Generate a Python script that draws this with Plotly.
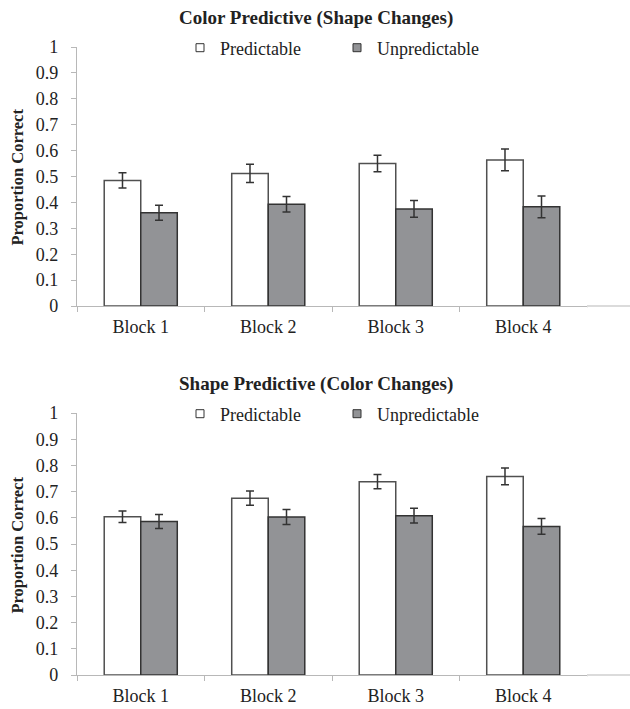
import plotly.graph_objects as go

blocks = ["Block 1", "Block 2", "Block 3", "Block 4"]
series_names = ["Predictable", "Unpredictable"]

top_title = "Color Predictive (Shape Changes)"
top_pred = [0.485, 0.512, 0.550, 0.564]
top_pred_err = [0.029, 0.035, 0.032, 0.042]
top_unpred = [0.360, 0.393, 0.375, 0.383]
top_unpred_err = [0.029, 0.030, 0.032, 0.042]

bot_title = "Shape Predictive (Color Changes)"
bot_pred = [0.604, 0.675, 0.738, 0.758]
bot_pred_err = [0.022, 0.027, 0.027, 0.032]
bot_unpred = [0.586, 0.603, 0.608, 0.567]
bot_unpred_err = [0.027, 0.029, 0.028, 0.030]

y_ticks = [0, 0.1, 0.2, 0.3, 0.4, 0.5, 0.6, 0.7, 0.8, 0.9, 1]
y_ticktext = ["0", "0.1", "0.2", "0.3", "0.4", "0.5", "0.6", "0.7", "0.8", "0.9", "1"]

FONT = "Liberation Serif, Times New Roman, serif"
TXT = "#222222"
W, H = 630, 709
fills = ["#ffffff", "#929396"]
outlines = ["#505050", "#333333"]
AXC = "#b8b8b8"

fig = go.Figure()

panels = [
    (top_pred, top_pred_err, top_unpred, top_unpred_err, "x", "y", "legend"),
    (bot_pred, bot_pred_err, bot_unpred, bot_unpred_err, "x2", "y2", "legend2"),
]
for pv, pe, uv, ue, xa, ya, lg in panels:
    for i, (vals, errs) in enumerate([(pv, pe), (uv, ue)]):
        fig.add_trace(go.Bar(
            x=blocks, y=vals, name=series_names[i], showlegend=False,
            marker=dict(color=fills[i], line=dict(color=outlines[i], width=1.5)),
            error_y=dict(type="data", array=errs, color="#333333", thickness=1.5, width=4),
            xaxis=xa, yaxis=ya, hoverinfo="skip",
        ))
    # legend entries with small square symbols
    for i in range(2):
        fig.add_trace(go.Scatter(
            x=[None], y=[None], mode="markers", name=series_names[i],
            marker=dict(symbol="square", size=8, color=fills[i],
                        line=dict(color="#333333", width=1)),
            xaxis=xa, yaxis=ya, legend=lg, showlegend=True,
        ))


def px_y(p):
    return 1 - p / H


top_dom = [px_y(306), px_y(47)]
bot_dom = [px_y(675), px_y(413)]
x_dom = [77 / W, 587 / W]

axis_common = dict(showline=True, linecolor=AXC, linewidth=1.2,
                   ticks="outside", tickcolor=AXC, ticklen=5,
                   tickfont=dict(family=FONT, size=18, color=TXT),
                   showgrid=False, zeroline=False)
xcommon = dict(domain=x_dom, tickson="boundaries", range=[-0.5, 3.5], ticklabelstandoff=4, **axis_common)
ycommon = dict(range=[0, 1], tickvals=y_ticks, ticktext=y_ticktext, ticklabelstandoff=9, **axis_common)

leg_common = dict(orientation="h", x=180 / W, xanchor="left", yanchor="middle",
                  font=dict(family=FONT, size=18, color=TXT), entrywidth=112, entrywidthmode="pixels",
                  itemwidth=30, bgcolor="rgba(0,0,0,0)", traceorder="normal")

ann_common = dict(xref="paper", yref="paper", showarrow=False, xanchor="center", yanchor="middle")

shapes = []
for yb in (306, 675):
    # axis line continues to the right edge of the chart area
    shapes.append(dict(type="line", xref="paper", yref="paper", x0=587 / W, x1=1,
                       y0=px_y(yb), y1=px_y(yb), line=dict(color=AXC, width=1.2)))
    # no tick mark at the right end of the category axis
    shapes.append(dict(type="line", xref="paper", yref="paper", x0=587 / W, x1=587 / W,
                       y0=px_y(yb + 1.2), y1=px_y(yb + 7), line=dict(color="white", width=3),
                       layer="above"))

fig.update_layout(
    width=W, height=H,
    margin=dict(l=0, r=0, t=0, b=0, autoexpand=False),
    paper_bgcolor="white", plot_bgcolor="white",
    barmode="group", bargap=0.427, bargroupgap=0,
    font=dict(family=FONT, color=TXT),
    xaxis=dict(anchor="y", **xcommon),
    yaxis=dict(domain=top_dom, anchor="x", **ycommon),
    xaxis2=dict(anchor="y2", **xcommon),
    yaxis2=dict(domain=bot_dom, anchor="x2", **ycommon),
    legend=dict(y=px_y(48), **leg_common),
    legend2=dict(y=px_y(414), **leg_common),
    annotations=[
        dict(text="<b>%s</b>" % top_title, x=316 / W, y=px_y(18),
             font=dict(family=FONT, size=19, color=TXT), **ann_common),
        dict(text="<b>%s</b>" % bot_title, x=316 / W, y=px_y(384),
             font=dict(family=FONT, size=19, color=TXT), **ann_common),
        dict(text="<b>Proportion Correct</b>", x=16.5 / W, y=px_y(177), textangle=-90,
             font=dict(family=FONT, size=16.5, color=TXT), **ann_common),
        dict(text="<b>Proportion Correct</b>", x=16.5 / W, y=px_y(545), textangle=-90,
             font=dict(family=FONT, size=16.5, color=TXT), **ann_common),
    ],
    shapes=shapes,
)

fig.write_html("out.html", config={"displayModeBar": False},
               post_script="document.body.style.margin='0px';")
